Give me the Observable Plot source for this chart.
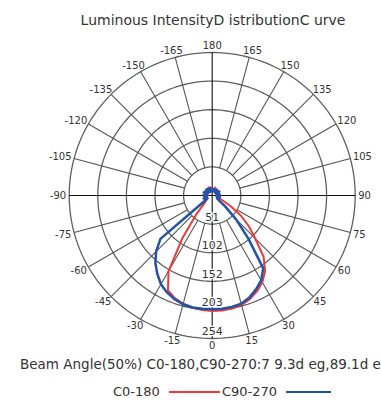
<!DOCTYPE html>
<html><head><meta charset="utf-8">
<script src="https://cdn.jsdelivr.net/npm/d3@7"></script>
<script src="https://cdn.jsdelivr.net/npm/@observablehq/plot@0.6"></script>
<style>
html,body{margin:0;padding:0;background:#fff;}
body{width:381px;height:401px;overflow:hidden;position:relative;font-family:"DejaVu Sans",Verdana,sans-serif;color:#333;}
#title{position:absolute;top:11px;left:0;width:426px;text-align:center;font-size:14px;line-height:18px;white-space:nowrap;}
#chart{position:absolute;top:30px;left:0;}
#beam{position:absolute;top:356px;left:20px;font-size:13.5px;line-height:16px;white-space:nowrap;}
.leg{position:absolute;top:384px;font-size:13px;line-height:16px;white-space:nowrap;}
.sw{position:absolute;top:391px;height:2px;}
</style></head>
<body>
<div id="title"></div>
<div id="chart"></div>
<div id="beam"></div>
<div id="leg0" class="leg" style="left:113px"></div>
<div id="sw0" class="sw" style="left:169px;width:51px"></div>
<div id="leg1" class="leg" style="left:222px"></div>
<div id="sw1" class="sw" style="left:286px;width:45px"></div>
<script>
const titleText = "Luminous IntensityD istributionC urve";
const beamText = "Beam Angle(50%) C0-180,C90-270:7 9.3d eg,89.1d eg";
const seriesNames = ["C0-180", "C90-270"];
const seriesColors = ["#f03a3a", "#2253a8"];

// gamma angles (deg), 0 = straight down
const angles = d3.range(-180, 181, 5);
const c0_180 = [
  11, 8, 14, 9, 12, 16, 8, 11, 13, 9, 15, 10, 12, 8, 14, 11, 9, 16, 12, 9, 13, 10, 15, 11, 9, 12, 14,
  20, 45, 92, 155, 186, 194, 199, 202, 204,
  205,
  205, 204, 201, 196, 188, 178, 164, 142, 108, 85, 62, 38, 20, 12,
  15, 10, 13, 9, 14, 11, 8, 13, 10, 15, 9, 12, 8, 14, 10, 12, 9, 15, 11, 8, 12, 11
];
const c90_270 = [
  9, 12, 8, 14, 10, 7, 13, 9, 15, 8, 11, 14, 9, 12, 16, 10, 13, 9, 15, 11, 14, 10, 16, 12, 10, 14,
  120, 141, 157, 170, 182, 190, 196, 200, 202, 202,
  202,
  202, 201, 199, 193, 184, 174, 158, 100, 60, 30, 14, 10,
  13, 9, 12, 8, 14, 10, 12, 9, 13, 8, 11, 14, 9, 12, 7, 10, 13, 8, 11, 9, 12, 8, 10, 9
];

const rings = [50.8, 101.6, 152.4, 203.2, 254];
const ringLabels = ["51", "102", "152", "203", "254"];
const angleLabels = d3.range(-165, 181, 15);

document.getElementById("title").textContent = titleText;
document.getElementById("beam").textContent = beamText;
document.getElementById("leg0").textContent = seriesNames[0];
document.getElementById("leg1").textContent = seriesNames[1];
document.getElementById("sw0").style.background = seriesColors[0];
document.getElementById("sw1").style.background = seriesColors[1];

const RMAX = 254, RPX = 143, k = RMAX / RPX;
const rad = d => d * Math.PI / 180;
const px = (deg, r) => r * Math.sin(rad(deg));
const py = (deg, r) => -r * Math.cos(rad(deg));

const circlePts = rings.flatMap(r => d3.range(0, 361, 2).map(a => ({ring: r, x: px(a, r), y: py(a, r)})));
const spokes = angleLabels.map(a => {
  const main = a % 90 === 0;
  const r0 = main ? 0 : rings[0];
  return {main, x1: px(a, r0), y1: py(a, r0), x2: px(a, RMAX), y2: py(a, RMAX)};
});
const ringText = rings.map((r, i) => ({t: ringLabels[i], x: 0, y: -(r - 7 * k)}));
const angleText = angleLabels.map(a => {
  const s = String(a);
  const w = (s.replace("-", "").length * 6.36 + (a < 0 ? 3.6 : 0));
  const hw = w / 2;
  const t = rad(a);
  const xp = RPX * Math.sin(t) + Math.sin(t) * (hw + 3);
  const yp = RPX * Math.cos(t) + Math.cos(t) * 7;
  return {t: s, x: xp * k, y: -yp * k};
});
const series = [c0_180, c90_270].map((vals, si) => angles.map((a, i) => ({x: px(a, vals[i]), y: py(a, vals[i])})));

const chart = Plot.plot({
  width: 381, height: 320,
  marginLeft: 68.7, marginRight: 26.3, marginTop: 22, marginBottom: 12,
  x: {domain: [-RMAX, RMAX], axis: null},
  y: {domain: [-RMAX, RMAX], axis: null},
  style: {fontFamily: "DejaVu Sans, Verdana, sans-serif", overflow: "visible", background: "transparent"},
  marks: [
    Plot.line(circlePts, {x: "x", y: "y", z: "ring", stroke: "#606060", strokeWidth: 1.3}),
    Plot.link(spokes, {x1: "x1", y1: "y1", x2: "x2", y2: "y2", stroke: d => d.main ? "#111" : "#555", strokeWidth: 1.1}),
    Plot.text(ringText, {x: "x", y: "y", text: "t", fontSize: 11, fill: "#333", stroke: "white", strokeWidth: 2.5}),
    Plot.text(angleText, {x: "x", y: "y", text: "t", fontSize: 10, fill: "#333"}),
    Plot.line(series[0], {x: "x", y: "y", stroke: seriesColors[0], strokeWidth: 2, strokeLinejoin: "round"}),
    Plot.line(series[1], {x: "x", y: "y", stroke: seriesColors[1], strokeWidth: 2.5, strokeLinejoin: "round"})
  ]
});
document.getElementById("chart").appendChild(chart);
</script>
</body></html>
